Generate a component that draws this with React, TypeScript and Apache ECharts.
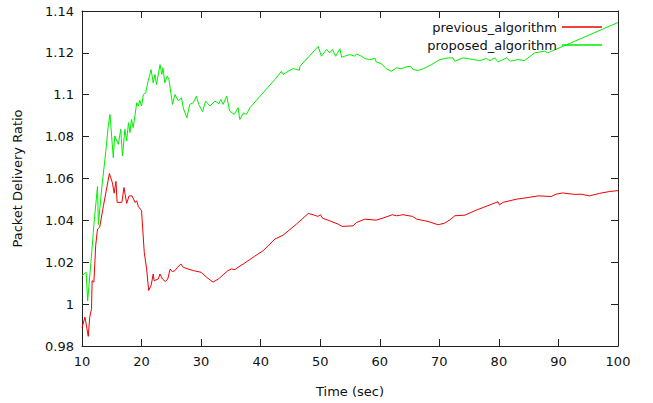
import React, { useEffect, useRef } from "react";
import * as echarts from "echarts";

const xTicks = [10, 20, 30, 40, 50, 60, 70, 80, 90, 100];

const prevTime = [
  10.0, 10.5, 11.05, 11.3, 11.6, 11.7, 12.0, 12.3, 12.6, 12.97, 13.6, 14.6, 15.1, 15.4, 15.7, 15.9,
  16.7, 17.05, 17.5, 17.9, 18.4, 18.9, 19.2, 19.45, 19.8, 20.0, 20.45, 20.85, 21.2, 21.6, 21.96,
  22.1, 22.8, 23.1, 23.5, 24.0, 24.4, 24.8, 25.15, 25.6, 26.05, 26.6, 27.0, 27.8, 28.7, 30.0, 30.9,
  32.0, 32.9, 33.7, 34.5, 35.1, 35.7, 36.2, 37.1, 39.0, 40.4, 42.4, 43.8, 46.0, 48.0, 48.8, 49.6,
  50.05, 50.4, 51.6, 53.0, 53.7, 55.5, 56.1, 57.5, 59.4, 60.55, 62.1, 62.8, 63.9, 65.5, 66.2, 68.1,
  69.8, 70.9, 71.8, 72.6, 74.3, 76.2, 78.5, 79.85, 80.1, 80.7, 82.9, 84.9, 86.6, 88.8, 89.6, 90.7,
  92.7, 93.8, 95.2, 96.9, 98.6, 100.0,
];
const prevRatio = [
  0.9887, 0.9938, 0.9846, 0.9938, 0.9978, 1.0112, 1.0105, 1.028, 1.0358, 1.0368, 1.047, 1.0624,
  1.058, 1.053, 1.0586, 1.0486, 1.0486, 1.0557, 1.0481, 1.0517, 1.0517, 1.0486, 1.0493, 1.0467,
  1.0454, 1.0446, 1.0248, 1.0168, 1.0065, 1.0089, 1.0144, 1.0112, 1.012, 1.0144, 1.012, 1.0108,
  1.012, 1.0168, 1.0155, 1.016, 1.0176, 1.0192, 1.0176, 1.0168, 1.016, 1.0152, 1.0129, 1.0105,
  1.012, 1.014, 1.016, 1.0168, 1.0165, 1.0176, 1.0192, 1.0229, 1.0255, 1.0311, 1.033, 1.0382,
  1.0433, 1.0427, 1.0419, 1.0427, 1.041, 1.0398, 1.0382, 1.0371, 1.0374, 1.039, 1.0406, 1.0401,
  1.0411, 1.0427, 1.0422, 1.0427, 1.0419, 1.0406, 1.0395, 1.0379, 1.0387, 1.0403, 1.0422, 1.0425,
  1.0449, 1.0474, 1.0489, 1.0474, 1.0486, 1.0501, 1.0509, 1.0517, 1.0514, 1.0525, 1.0531, 1.0524,
  1.0525, 1.0517, 1.0529, 1.0538, 1.0542,
];

const propTime = [
  10.0, 10.7, 10.95, 11.5, 12.0, 12.6, 12.75, 13.3, 14.0, 14.4, 14.7, 15.25, 15.5, 16.1, 16.5, 16.8,
  17.2, 17.5, 17.8, 18.05, 18.3, 18.6, 19.2, 19.45, 19.7, 20.0, 20.3, 20.7, 21.1, 21.6, 21.96, 22.25,
  22.5, 23.1, 23.4, 23.6, 23.9, 24.3, 24.6, 25.2, 25.6, 26.2, 26.7, 27.0, 27.6, 28.1, 28.7, 29.2,
  29.6, 30.25, 30.75, 31.5, 32.3, 33.0, 33.3, 33.7, 34.3, 34.8, 35.55, 36.2, 36.5, 37.1, 37.6, 38.2,
  40.15, 42.4, 43.5, 43.8, 44.6, 45.45, 46.5, 46.6, 49.65, 50.2, 51.05, 51.6, 52.05, 52.6, 53.3, 53.6,
  54.1, 55.0, 55.8, 56.1, 56.9, 57.5, 58.3, 59.2, 59.4, 60.3, 61.1, 61.95, 62.8, 63.6, 64.4, 65.2,
  65.6, 66.4, 67.3, 68.7, 70.1, 71.5, 72.3, 72.6, 74.0, 75.7, 76.8, 77.9, 78.5, 79.3, 79.85, 81.3,
  81.9, 83.2, 84.3, 86.0, 87.7, 88.2, 100.0,
];
const propRatio = [
  1.0136, 1.0152, 1.0015, 1.02, 1.038, 1.0562, 1.038, 1.055, 1.073, 1.085, 1.0906, 1.07, 1.0803,
  1.0763, 1.0835, 1.0708, 1.0835, 1.0779, 1.0867, 1.0819, 1.0882, 1.0843, 1.0962, 1.0946, 1.0974,
  1.0946, 1.1001, 1.101, 1.1065, 1.112, 1.1057, 1.1097, 1.1049, 1.1144, 1.1097, 1.1129, 1.1057,
  1.1089, 1.1073, 1.0954, 1.1001, 1.097, 1.0986, 1.0938, 1.089, 1.0954, 1.0962, 1.0993, 1.0954,
  1.0919, 1.097, 1.0946, 1.097, 1.0957, 1.0978, 1.0954, 1.0993, 1.0922, 1.0906, 1.0938, 1.0882,
  1.0914, 1.0906, 1.0938, 1.1001, 1.1073, 1.1112, 1.1097, 1.1112, 1.1125, 1.1117, 1.1136, 1.1231,
  1.1184, 1.1216, 1.12, 1.1216, 1.1184, 1.122, 1.1179, 1.1184, 1.1192, 1.1184, 1.1195, 1.1184,
  1.1173, 1.1168, 1.1173, 1.1157, 1.1148, 1.1124, 1.1112, 1.1129, 1.1124, 1.1133, 1.1136, 1.112,
  1.1116, 1.1124, 1.1144, 1.1168, 1.1176, 1.1176, 1.116, 1.1176, 1.1168, 1.1163, 1.1173, 1.1163,
  1.1176, 1.1157, 1.1176, 1.116, 1.1168, 1.1163, 1.12, 1.1208, 1.12, 1.1345,
];

const seriesNames = ["previous_algorithm", "proposed_algorithm"];
const seriesColors = ["#ee0000", "#00ee00"];

const FONT = "DejaVu Sans";
const AXIS_COLOR = "#222";

export default function App() {
  const ref = useRef<HTMLDivElement>(null);

  useEffect(() => {
    if (!ref.current) return;
    const chart = echarts.init(ref.current, null, { renderer: "svg" });

    const xBase = {
      type: "value" as const,
      min: xTicks[0],
      max: xTicks[xTicks.length - 1],
      interval: 10,
      splitLine: { show: false },
      axisLine: { show: true, lineStyle: { color: AXIS_COLOR, width: 1 } },
      axisTick: { show: true, inside: true, length: 7, lineStyle: { color: AXIS_COLOR } },
    };
    const yBase = {
      type: "value" as const,
      min: 0.98,
      max: 1.14,
      interval: 0.02,
      splitLine: { show: false },
      axisLine: { show: true, lineStyle: { color: AXIS_COLOR, width: 1 } },
      axisTick: { show: true, inside: true, length: 7, lineStyle: { color: AXIS_COLOR } },
    };

    chart.setOption({
      animation: false,
      textStyle: { fontFamily: FONT },
      grid: { left: 82, right: 35, top: 11, bottom: 56, containLabel: false },
      legend: {
        orient: "vertical",
        right: 51,
        top: 20,
        padding: 0,
        align: "right",
        itemGap: 4,
        itemWidth: 40,
        itemHeight: 1.5,
        icon: "rect",
        textStyle: { fontFamily: FONT, fontSize: 13, color: "#111", lineHeight: 14 },
        data: seriesNames,
      },
      xAxis: [
        {
          ...xBase,
          position: "bottom",
          name: "Time (sec)",
          nameLocation: "middle",
          nameGap: 39,
          nameTextStyle: { fontFamily: FONT, fontSize: 13, color: "#111" },
          axisLabel: { fontFamily: FONT, fontSize: 13, color: "#111", margin: 9 },
        },
        { ...xBase, position: "top", axisLabel: { show: false } },
      ],
      yAxis: [
        {
          ...yBase,
          position: "left",
          name: "Packet Delivery Ratio",
          nameLocation: "middle",
          nameGap: 58,
          nameRotate: 90,
          nameTextStyle: { fontFamily: FONT, fontSize: 13, color: "#111" },
          axisLabel: {
            fontFamily: FONT,
            fontSize: 13,
            color: "#111",
            margin: 8,
            formatter: (v: number) => String(parseFloat(v.toFixed(2))),
          },
        },
        { ...yBase, position: "right", axisLabel: { show: false } },
      ],
      series: [
        {
          name: seriesNames[0],
          type: "line",
          data: prevTime.map((t, i) => [t, prevRatio[i]]),
          showSymbol: false,
          symbol: "none",
          lineStyle: { color: seriesColors[0], width: 1 },
          itemStyle: { color: seriesColors[0] },
        },
        {
          name: seriesNames[1],
          type: "line",
          data: propTime.map((t, i) => [t, propRatio[i]]),
          showSymbol: false,
          symbol: "none",
          lineStyle: { color: seriesColors[1], width: 1 },
          itemStyle: { color: seriesColors[1] },
        },
      ],
    });

    return () => chart.dispose();
  }, []);

  return (
    <div
      ref={ref}
      style={{ position: "fixed", left: 0, top: 0, width: 653, height: 403, background: "#fff" }}
    />
  );
}
